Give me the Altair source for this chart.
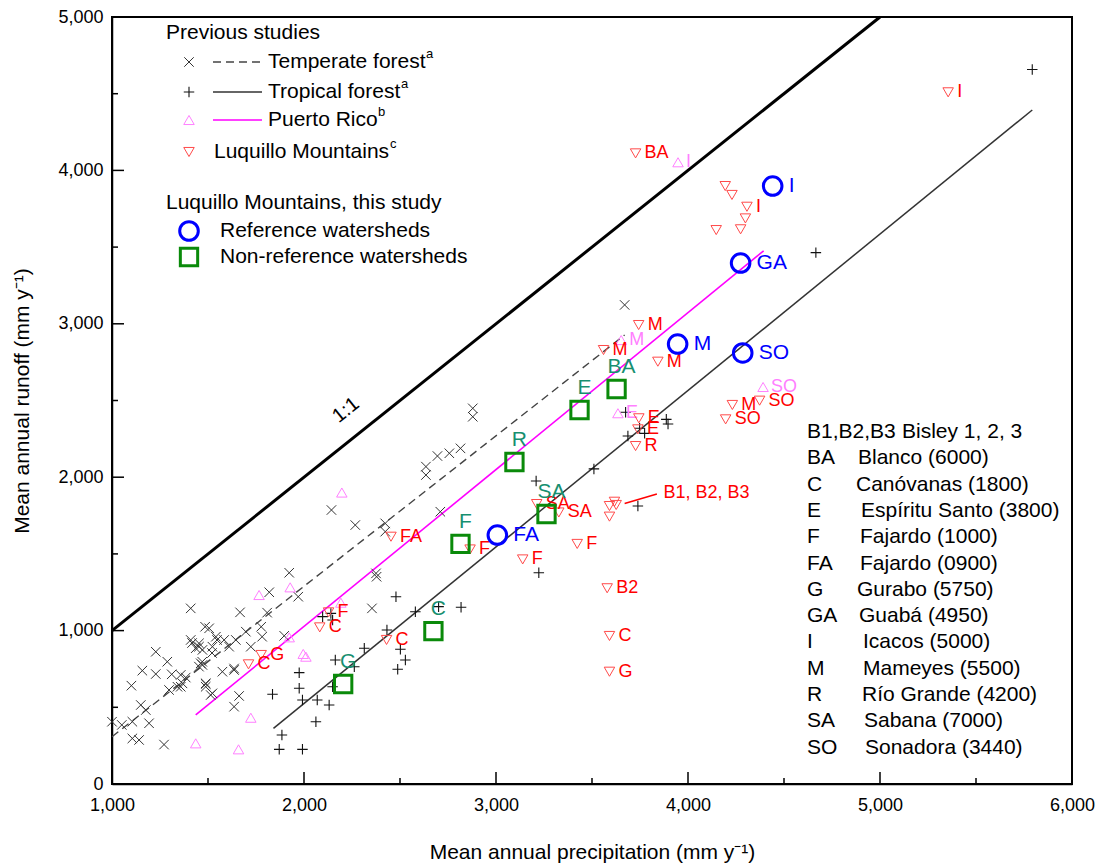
import altair as alt
import pandas as pd

# ---------------- data ----------------
temperate_x = [1000, 1051, 1106, 1106, 1141, 1271, 1101, 1150, 1176, 1193,
               1158, 1228, 1228, 1288, 1311, 1358, 1384, 1367, 1297, 1341, 1358,
               1410, 1410, 1417, 1436, 1453, 1453, 1471, 1470, 1462, 1453, 1471,
               1485, 1506, 1523, 1541, 1547, 1488, 1488, 1488, 1514, 1523, 1521,
               1575, 1584, 1610, 1636, 1636, 1636, 1645, 1662,
               1667, 1697, 1723, 1777, 1782, 1808, 1819, 1897, 1923, 1970,
               2143, 2267, 2423, 2423, 2375, 2378, 2354,
               2635, 2635, 2695, 2757, 2815, 2879, 2879, 2710, 3670]
temperate_y = [406, 385, 406, 297, 287, 257, 641, 515, 482, 396,
               739, 717, 862, 797, 715, 711, 694, 656, 613, 634, 634,
               1145, 939, 919, 885, 895, 917, 874, 797, 787, 765, 776,
               1025, 1015, 895, 960, 939, 652, 634, 656, 580, 591, 854,
               732, 939, 895, 743, 753, 504, 939, 574,
               1119, 993, 895, 1025, 960, 1117, 1250, 966, 1377, 1221,
               1786, 1688, 1699, 1645, 1373, 1351, 1145,
               2069, 2014, 2138, 2156, 2188, 2449, 2394, 1775, 3123]

tropical_x = [1871, 1885, 1992, 1975, 1975, 1992, 1836, 2062, 2069, 2131, 2149,
              2163, 2097, 2140, 2149, 2262, 2314, 2432, 2502, 2528, 2488, 2479,
              2580, 2701, 2818, 3209, 3223, 3510, 3675, 3687, 3748, 3774, 3887,
              3896, 3739, 4666, 5793]
tropical_y = [226, 319, 226, 726, 624, 548, 585, 406, 548, 515, 634,
              808, 1091, 1112, 1069, 764, 885, 1004, 878, 808, 748, 1221,
              1123, 1156, 1152, 1975, 1377, 2054, 2423, 2269, 2319, 2286, 2377,
              2347, 1812, 3464, 4658]

pr_x = [1436, 1659, 1723, 1766, 1923, 1928, 1996, 2010, 2192, 2197, 3635, 3652, 3948, 4391]
pr_y = [265, 226, 432, 1232, 956, 1282, 848, 830, 1182, 1900, 2417, 2894, 4053, 2588]
pr_label = ["", "", "", "", "", "", "", "", "", "", "E", "M", "I", "SO"]

luq_x = [3727, 5355, 4194, 4229, 4307, 4299, 4147, 4274, 3743, 3560, 3843, 4231,
         4373, 4196, 3744, 3739, 3727, 3591, 3617, 3626, 3591, 3579, 3591, 3591,
         3423, 3327, 3212, 3139, 2865, 2453, 2128, 2082, 2430, 1711, 1777]
luq_y = [4111, 4509, 3898, 3840, 3763, 3687, 3611, 3616, 2992, 2829, 2753, 2471,
         2499, 2377, 2384, 2312, 2203, 1812, 1840, 1819, 1743, 1276, 965, 732,
         1565, 1770, 1825, 1464, 1529, 1612, 1119, 1021, 939, 780, 841]
luq_label = ["BA", "I", "", "", "I", "", "", "", "M", "M", "M", "M",
             "SO", "SO", "E", "E", "R", "", "", "", "", "B2", "C", "G",
             "F", "SA", "SA", "F", "F", "FA", "F", "C", "C", "C", "G"]

ref_x = [4441, 4274, 3946, 4285, 3007]
ref_y = [3898, 3396, 2868, 2810, 1623]
ref_label = ["I", "GA", "M", "SO", "FA"]

nonref_x = [3628, 3435, 3096, 3263, 2815, 2674, 2204]
nonref_y = [2575, 2438, 2099, 1760, 1565, 997, 652]
nonref_label = ["BA", "E", "R", "SA", "F", "C", "G"]

temp_fit_x = [1000, 3670]
temp_fit_y = [308, 2927]
trop_fit_x = [1841, 5793]
trop_fit_y = [363, 4394]
pr_fit_x = [1436, 4394]
pr_fit_y = [450, 3476]
one_to_one = [1000, 5000]

bisley_line_x = [3670, 3838]
bisley_line_y = [1829, 1890]
bisley_text = ["B1, B2, B3"]
bisley_text_x = [3872]
bisley_text_y = [1897]

x_major = [1000, 2000, 3000, 4000, 5000, 6000]
x_minor = [1500, 2500, 3500, 4500, 5500]
y_major = [0, 1000, 2000, 3000, 4000, 5000]
y_minor = [500, 1500, 2500, 3500, 4500]

key_codes = ["B1,B2,B3", "BA", "C", "E", "F", "FA", "G", "GA", "I", "M", "R", "SA", "SO"]
key_names = ["Bisley 1, 2, 3", "Blanco (6000)", "Canóvanas (1800)", "Espíritu Santo (3800)",
             "Fajardo (1000)", "Fajardo (0900)", "Gurabo (5750)", "Guabá (4950)",
             "Icacos (5000)", "Mameyes (5500)", "Río Grande (4200)", "Sabana (7000)",
             "Sonadora (3440)"]

# ---------------- styling ----------------
FONT = "Liberation Sans"
W, H = 960, 767
XCROSS = "M-1,-1L1,1M-1,1L1,-1"
PLUS = "M-1,0L1,0M0,-1L0,1"
RED_T = "#ff4a4a"
RED = "#ff0000"
PINK = "#ff80ff"
BLUE = "#0000ff"
GREEN = "#0a8a0a"
TEAL = "#178f70"
MAG = "#ff00ff"

xs = alt.Scale(domain=[1000, 6000], nice=False, zero=False)
ys = alt.Scale(domain=[0, 5000], nice=False, zero=False)
xaxis = alt.Axis(title="Mean annual precipitation (mm y⁻¹)", values=x_major, format=",.0f",
                 labelPadding=12, titlePadding=27, labelFlush=False)
yaxis = alt.Axis(title="Mean annual runoff (mm y⁻¹)", values=y_major, format=",.0f",
                 labelPadding=9, titlePadding=25, labelFlush=False)


def X(f):
    return alt.X(f, type="quantitative", scale=xs, axis=xaxis)


def Y(f):
    return alt.Y(f, type="quantitative", scale=ys, axis=yaxis)


one = pd.DataFrame({"a": [0]})
layers = []

# tick marks (inward)
layers.append(alt.Chart(pd.DataFrame({"v": x_major})).mark_rule(color="black", strokeWidth=1.5)
              .encode(x=X("v"), y=alt.value(H), y2=alt.value(H - 12)))
layers.append(alt.Chart(pd.DataFrame({"v": x_minor})).mark_rule(color="black", strokeWidth=1.5)
              .encode(x=X("v"), y=alt.value(H), y2=alt.value(H - 6)))
layers.append(alt.Chart(pd.DataFrame({"v": y_major})).mark_rule(color="black", strokeWidth=1.5)
              .encode(y=Y("v"), x=alt.value(0), x2=alt.value(12)))
layers.append(alt.Chart(pd.DataFrame({"v": y_minor})).mark_rule(color="black", strokeWidth=1.5)
              .encode(y=Y("v"), x=alt.value(0), x2=alt.value(6)))

# lines
layers.append(alt.Chart(pd.DataFrame({"x": one_to_one, "y": one_to_one}))
              .mark_line(color="black", strokeWidth=3).encode(x=X("x"), y=Y("y")))
layers.append(alt.Chart(pd.DataFrame({"x": temp_fit_x, "y": temp_fit_y}))
              .mark_line(color="#444444", strokeWidth=1.4, strokeDash=[8, 5]).encode(x=X("x"), y=Y("y")))
layers.append(alt.Chart(pd.DataFrame({"x": trop_fit_x, "y": trop_fit_y}))
              .mark_line(color="#333333", strokeWidth=1.5).encode(x=X("x"), y=Y("y")))
layers.append(alt.Chart(pd.DataFrame({"x": pr_fit_x, "y": pr_fit_y}))
              .mark_line(color=MAG, strokeWidth=1.6).encode(x=X("x"), y=Y("y")))

# 1:1 label
layers.append(alt.Chart(pd.DataFrame({"x": [2218], "y": [2438], "t": ["1:1"]}))
              .mark_text(angle=321.4, fontSize=20, font=FONT, color="black")
              .encode(x=X("x"), y=Y("y"), text="t:N"))

# previous studies
layers.append(alt.Chart(pd.DataFrame({"x": temperate_x, "y": temperate_y}))
              .mark_point(shape=XCROSS, filled=False, color="#333333", strokeWidth=1, size=90, opacity=1)
              .encode(x=X("x"), y=Y("y")))
layers.append(alt.Chart(pd.DataFrame({"x": tropical_x, "y": tropical_y}))
              .mark_point(shape=PLUS, filled=False, color="#111111", strokeWidth=1.1, size=110, opacity=1)
              .encode(x=X("x"), y=Y("y")))
pr_df = pd.DataFrame({"x": pr_x, "y": pr_y, "t": pr_label})
layers.append(alt.Chart(pr_df).mark_point(shape="triangle-up", filled=False, color=PINK,
                                          strokeWidth=1, size=110, opacity=1)
              .encode(x=X("x"), y=Y("y")))
layers.append(alt.Chart(pr_df).mark_text(align="left", baseline="middle", dx=8, fontSize=18,
                                         font=FONT, color=PINK)
              .encode(x=X("x"), y=Y("y"), text="t:N"))
luq_df = pd.DataFrame({"x": luq_x, "y": luq_y, "t": luq_label})
layers.append(alt.Chart(luq_df).mark_point(shape="triangle-down", filled=False, color=RED_T,
                                           strokeWidth=1, size=110, opacity=1)
              .encode(x=X("x"), y=Y("y")))
layers.append(alt.Chart(luq_df).mark_text(align="left", baseline="middle", dx=9, fontSize=18,
                                          font=FONT, color=RED)
              .encode(x=X("x"), y=Y("y"), text="t:N"))
layers.append(alt.Chart(pd.DataFrame({"x": bisley_line_x, "y": bisley_line_y}))
              .mark_line(color=RED, strokeWidth=1.5).encode(x=X("x"), y=Y("y")))
layers.append(alt.Chart(pd.DataFrame({"x": bisley_text_x, "y": bisley_text_y, "t": bisley_text}))
              .mark_text(align="left", baseline="middle", fontSize=18, font=FONT, color=RED)
              .encode(x=X("x"), y=Y("y"), text="t:N"))

# this study
ref_df = pd.DataFrame({"x": ref_x, "y": ref_y, "t": ref_label})
layers.append(alt.Chart(ref_df).mark_point(shape="circle", filled=False, color=BLUE,
                                           strokeWidth=3, size=346, opacity=1)
              .encode(x=X("x"), y=Y("y")))
layers.append(alt.Chart(ref_df).mark_text(align="left", baseline="middle", dx=16, fontSize=21,
                                          font=FONT, color=BLUE)
              .encode(x=X("x"), y=Y("y"), text="t:N"))
non_df = pd.DataFrame({"x": nonref_x, "y": nonref_y, "t": nonref_label})
layers.append(alt.Chart(non_df).mark_point(shape="square", filled=False, color=GREEN,
                                           strokeWidth=3, size=300, opacity=1)
              .encode(x=X("x"), y=Y("y")))
layers.append(alt.Chart(non_df).mark_text(align="center", baseline="middle", dx=5, dy=-22,
                                          fontSize=21, font=FONT, color=TEAL)
              .encode(x=X("x"), y=Y("y"), text="t:N"))

# ---------------- legend (upper left) ----------------
def ltext(txt, px, py, size=21, color="black"):
    return alt.Chart(one).mark_text(text=txt, align="left", baseline="middle", fontSize=size,
                                    font=FONT, color=color).encode(x=alt.value(px), y=alt.value(py))


def lsym(shape, px, py, color, size, sw=1):
    return alt.Chart(one).mark_point(shape=shape, filled=False, color=color, size=size,
                                     strokeWidth=sw, opacity=1).encode(x=alt.value(px), y=alt.value(py))


def lline(px1, px2, py, color, dash=None, sw=1.5):
    kw = dict(color=color, strokeWidth=sw)
    if dash:
        kw["strokeDash"] = dash
    return alt.Chart(one).mark_rule(**kw).encode(x=alt.value(px1), x2=alt.value(px2), y=alt.value(py))


rows_y = [45, 75, 103, 135]
layers += [
    ltext("Previous studies", 54, 16),
    lsym(XCROSS, 77, rows_y[0], "#333333", 90),
    lline(101, 150, rows_y[0], "#444444", [8, 5], 1.4),
    ltext("Temperate forest", 156, rows_y[0]),
    ltext("a", 314, rows_y[0] - 8, 13),
    lsym(PLUS, 77, rows_y[1], "#111111", 110, 1.1),
    lline(101, 150, rows_y[1], "#333333"),
    ltext("Tropical forest", 156, rows_y[1]),
    ltext("a", 289, rows_y[1] - 8, 13),
    lsym("triangle-up", 77, rows_y[2], PINK, 110),
    lline(101, 150, rows_y[2], MAG, None, 1.6),
    ltext("Puerto Rico", 156, rows_y[2]),
    ltext("b", 266, rows_y[2] - 8, 13),
    lsym("triangle-down", 77, rows_y[3], RED_T, 110),
    ltext("Luquillo Mountains", 102, rows_y[3]),
    ltext("c", 278, rows_y[3] - 8, 13),
    ltext("Luquillo Mountains, this study", 54, 186),
    lsym("circle", 77, 214, BLUE, 346, 3),
    ltext("Reference watersheds", 108, 214),
    lsym("square", 77, 240, GREEN, 300, 3),
    ltext("Non-reference watersheds", 108, 240),
]

# ---------------- abbreviation key (right) ----------------
name_x = [790, 746, 744, 749, 748, 748, 745, 747, 751, 751, 750, 752, 753]
for i, (c, n) in enumerate(zip(key_codes, key_names)):
    py = 415 + i * 26.3
    layers.append(ltext(c, 695, py, 21))
    layers.append(ltext(n, name_x[i], py, 21))

chart = alt.layer(*layers).properties(
    width=W, height=H,
    padding={"left": 104, "top": 9, "right": 30, "bottom": 82},
    autosize=alt.AutoSizeParams(type="none"),
).configure_view(
    stroke="black", strokeWidth=2
).configure_axis(
    grid=False, ticks=False, domainColor="black", domainWidth=1.5,
    labelFont=FONT, titleFont=FONT, labelFontSize=18, titleFontSize=21,
    labelColor="black", titleColor="black", titleFontWeight="normal"
)

chart.save("out.html", embed_options={"renderer": "svg", "actions": False})
